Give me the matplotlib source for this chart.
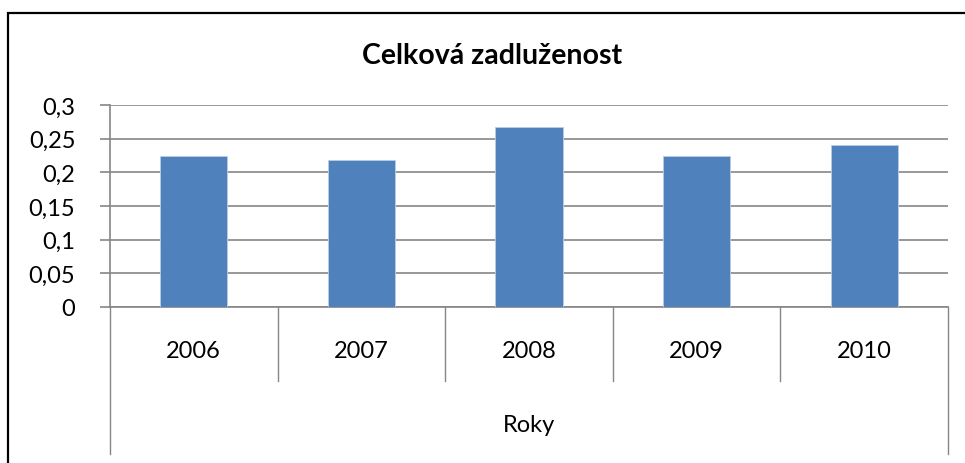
import matplotlib
matplotlib.use("Agg")
import matplotlib.pyplot as plt
from matplotlib.patches import Rectangle
import numpy as np

plt.rcParams['font.family'] = ['Lato', 'DejaVu Sans']

title = "Celková zadluženost"
categories = ["2006", "2007", "2008", "2009", "2010"]
values = [0.2245, 0.2186, 0.2675, 0.2245, 0.2413]
group_label = "Roky"
yticks = [0, 0.05, 0.1, 0.15, 0.2, 0.25, 0.3]
ytick_labels = ["0", "0,05", "0,1", "0,15", "0,2", "0,25", "0,3"]

W, H = 965, 464
fig = plt.figure(figsize=(W / 100, H / 100), dpi=100)
fig.patch.set_facecolor("white")

# outer chart border (left/top visible)
fig.add_artist(Rectangle((8 / W, -0.1), 1.2, (H - 14) / H + 0.1, transform=fig.transFigure,
                         fill=False, edgecolor="black", linewidth=1.6))

ax = fig.add_axes([110 / W, (H - 308) / H, (948 - 110) / W, (308 - 106) / H])
n = len(categories)
x = np.arange(n)
grid_col = "#868686"
fs = 17
ax.bar(x, values, width=0.4, color="#4F81BD", edgecolor="#B9CDE5", linewidth=0.6, zorder=3)
ax.set_xlim(-0.5, n - 0.5)
ax.set_ylim(0, 0.3)
ax.set_yticks(yticks)
ax.set_yticklabels(ytick_labels, fontsize=fs)
ax.yaxis.grid(True, color=grid_col, linewidth=1.2, zorder=0)
ax.set_axisbelow(True)
for s in ["top", "right"]:
    ax.spines[s].set_visible(False)
for s in ["left", "bottom"]:
    ax.spines[s].set_color(grid_col)
    ax.spines[s].set_linewidth(1.2)
ax.tick_params(axis="y", length=7, width=1.2, color=grid_col, pad=18, labelsize=fs)
ax.set_xticks([])

# multi-level category axis
trans = ax.get_xaxis_transform()
ax_h_px = 308 - 106
def yfrac(px_below):
    return -px_below / ax_h_px
bounds = np.arange(n + 1) - 0.5
for i, b in enumerate(bounds):
    end = 147 if i in (0, n) else 74
    ax.plot([b, b], [0, yfrac(end)], transform=trans, color=grid_col, linewidth=1.0, clip_on=False)
for i, c in enumerate(categories):
    ax.text(x[i], yfrac(44), c, transform=trans, ha="center", va="center", fontsize=fs)
ax.text((n - 1) / 2, yfrac(118), group_label, transform=trans, ha="center", va="center", fontsize=fs)

fig.text(492 / W, 1 - 56 / H, title, ha="center", va="center", fontsize=20.5, fontweight="bold")

fig.savefig("out.png", dpi=100)
